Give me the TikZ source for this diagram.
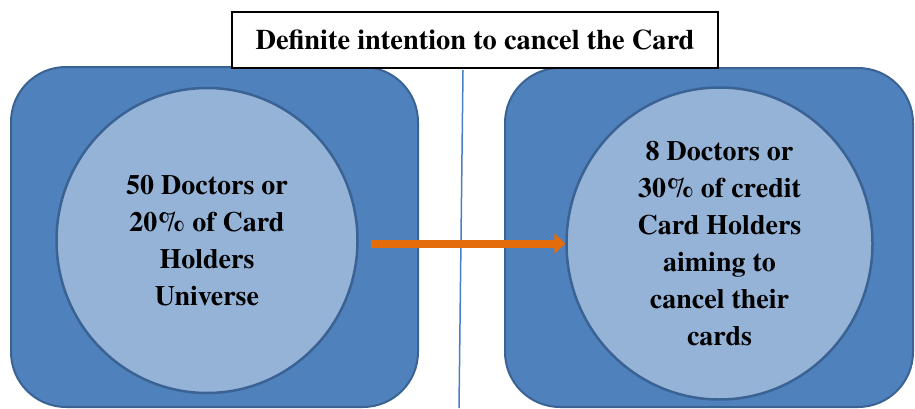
\documentclass[tikz,border=0pt]{standalone}
\usepackage{fontspec}
\setmainfont{texgyretermes}[Extension=.otf, UprightFont=*-regular, BoldFont=*-bold]
\usepackage{tikz}
\usetikzlibrary{arrows.meta}
\usetikzlibrary{shapes.geometric}
\usetikzlibrary{positioning}
\definecolor{panelblue}{HTML}{4F81BD}
\definecolor{paneledge}{HTML}{3A6394}
\definecolor{discblue}{HTML}{95B3D7}
\definecolor{arroworange}{HTML}{E46C0A}
\definecolor{splitblue}{HTML}{4A7EC4}
\begin{document}
\begin{tikzpicture}[x=1pt,y=1pt,
  panel/.style={draw=paneledge, line width=2pt, fill=panelblue, rounded corners=55pt},
  disc/.style={ellipse, draw=paneledge, line width=2.5pt, fill=discblue, inner sep=0pt,
    align=center, font=\bfseries\fontsize{28}{37}\selectfont},
  titlebox/.style={draw=black, line width=1.8pt, fill=white, minimum width=486pt,
    minimum height=56pt, font=\bfseries\fontsize{28.4}{34}\selectfont},
  flow/.style={arroworange, line width=8pt, -{Triangle[length=11pt,width=20pt]}}]
\useasboundingbox (0,0) rectangle (915,408);
% the two panels
\draw[panel] (11,1) rectangle (418,341);
\draw[panel] (505,1) rectangle (913,340);
% divider
\coordinate (splittop) at (463,338);
\coordinate (splitbot) at (459,0);
\draw[splitblue, line width=1.5pt] (splittop)--(splitbot);
% circles
\node[disc, minimum width=301pt, minimum height=305pt] (leftdisc) at (207,167.5) {50 Doctors or\\20\% of Card\\Holders\\Universe};
\node[disc, minimum width=306pt, minimum height=312pt] (rightdisc) at (719.5,164.5) {8 Doctors or\\30\% of credit\\Card Holders\\aiming to\\cancel their\\cards};
% heading
\node[titlebox] (heading) at (475,368) {Definite intention to cancel the Card};
% arrow
\draw[flow] ([xshift=12pt]leftdisc.east |- rightdisc.west)--(rightdisc.west);
\end{tikzpicture}
\end{document}
